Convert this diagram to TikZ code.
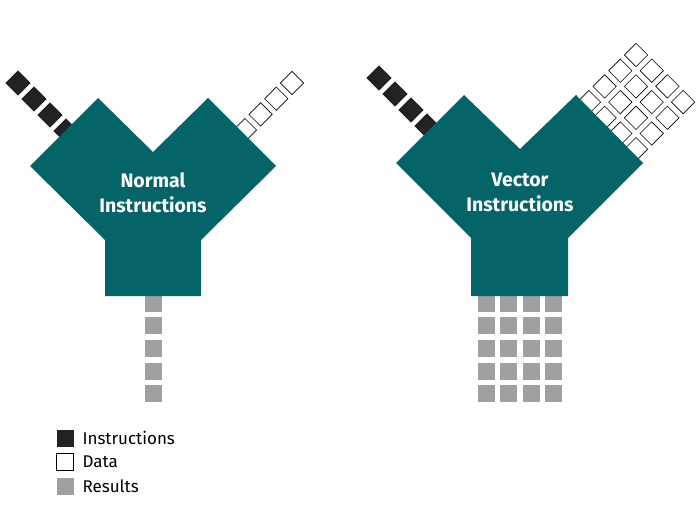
\documentclass[tikz,border=0pt]{standalone}
\usepackage{fontspec}
\setmainfont{Fira Sans}
\definecolor{teal1}{HTML}{056468}
\definecolor{blk}{HTML}{222222}
\definecolor{gry}{HTML}{A0A0A0}
\begin{document}
\begin{tikzpicture}[x=1pt,y=-1pt,
  sq/.style={minimum size=17pt,inner sep=0pt,outer sep=0pt},
  insq/.style={sq,fill=blk,rotate=45,minimum size=18pt},
  datsq/.style={sq,draw=black,line width=0.6pt,fill=white,rotate=45,minimum size=16.5pt},
  ressq/.style={sq,fill=gry},
  ybody/.style={fill=teal1},
  ylabel/.style={text=white,font=\fontsize{19.5}{25}\selectfont\bfseries,align=center},
  legtext/.style={anchor=west,font=\fontsize{17}{19}\selectfont}]
\useasboundingbox (0,0) rectangle (700,508);
% ---------- left
\foreach \i in {0,...,3} {
  \node[insq] (li\i) at ({18+16*\i},{83+16*\i}) {};
  \node[datsq] (ld\i) at ({292-15.7*\i},{83+15.7*\i}) {};
}
\foreach \i in {0,...,4}
  \node[ressq] (lr\i) at (153,{303+22.7*\i}) {};
\fill[ybody] (98,98) -- (153,152) -- (208,98) -- (276,166) -- (201,240) -- (201,296)
  -- (105,296) -- (105,240) -- (30,166) -- cycle;
\node[ylabel] (ln) at (153,193) {Normal\\Instructions};
% ---------- right
\foreach \i in {0,...,3} {
  \node[insq] (ri\i) at ({379+16*\i},{78+16*\i}) {};
  \foreach \j in {0,...,5}
    \node[datsq] (rd\i\j) at ({636+15.7*\i-15.7*\j},{55+15.7*\i+15.7*\j}) {};
  \foreach \j in {0,...,4}
    \node[ressq] (rr\i\j) at ({486+22.5*\i},{303+22.7*\j}) {};
}
\fill[ybody] (464,95) -- (520,149) -- (576,95) -- (643,163) -- (568,238) -- (568,296)
  -- (471,296) -- (471,238) -- (396,163) -- cycle;
\node[ylabel] (rn) at (520,192) {Vector\\Instructions};
% ---------- legend
\node[sq,fill=blk] (k1) at (65,438) {};
\node[sq,draw=black,line width=0.6pt] (k2) at (65,462) {};
\node[sq,fill=gry] (k3) at (65,486) {};
\node[legtext] at (79,438) {Instructions};
\node[legtext] at (79,462) {Data};
\node[legtext] at (79,486) {Results};
\end{tikzpicture}
\end{document}
